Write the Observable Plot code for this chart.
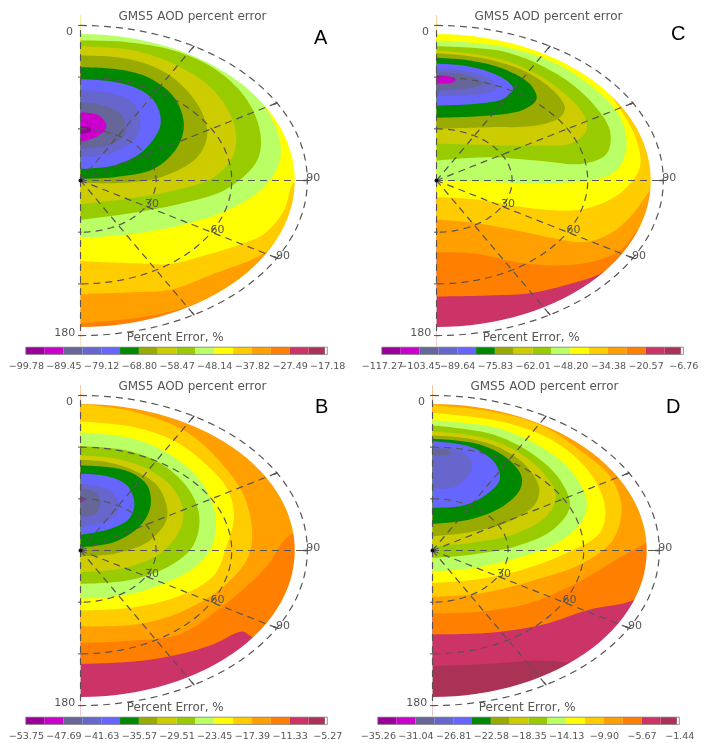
<!DOCTYPE html>
<html>
<head>
<meta charset="utf-8">
<script src="https://cdn.jsdelivr.net/npm/d3@7"></script>
<script src="https://cdn.jsdelivr.net/npm/@observablehq/plot@0.6"></script>
<style>
html,body{margin:0;padding:0;background:#fff;}
#root{position:relative;width:713px;height:743px;overflow:hidden;filter:blur(0.6px);}
.panel{position:absolute;width:356px;height:373px;}
.panel svg{position:absolute;left:0;overflow:visible;}
.letter{position:absolute;font:20px/24px "Liberation Sans",Arial,sans-serif;color:#000;}
</style>
</head>
<body>
<div id="root"></div>
<script>
// Colour levels of the percent-error palette (lowest to highest)
const palette = ["#990099","#cc00cc","#666699","#6666cc","#6666ff","#008800","#99aa00","#cccc00",
                 "#99cc00","#bbff66","#ffff00","#ffcc00","#ff9f00","#ff8000","#cc3366","#aa3355"];

// Colour-bar tick values
const ticksA = [-99.78,-89.45,-79.12,-68.80,-58.47,-48.14,-37.82,-27.49,-17.18];
const ticksB = [-53.75,-47.69,-41.63,-35.57,-29.51,-23.45,-17.39,-11.33,-5.27];
const ticksC = [-117.27,-103.45,-89.64,-75.83,-62.01,-48.20,-34.38,-20.57,-6.76];
const ticksD = [-35.26,-31.04,-26.81,-22.58,-18.35,-14.13,-9.90,-5.67,-1.44];

// Graticule of the polar plot: degrees
const azimuths = [0,30,60,90,120,150,180];
const zenithCircles = [30,60,90];
const rimZenith = 85;

// Points past the data rim, closing contours that run off the edge
const overRim = [[95,8],[85,48],[55,80],[0,95]];
const wholeDisc = [[0,96],[70,70],[96,0],[70,-70],[0,-96]];

// Iso-error contours: [colour level, outline from lower axis round to upper axis],
// outline points are r*sin(azimuth), r*cos(azimuth) in degrees of zenith angle.
const contoursA = [
 [13, wholeDisc],
 [12, [[0,-82.8],[23.8,-79.5],[39.7,-74.5],[50,-69],[62,-64],[92,-10],...overRim]],
 [11, [[0,-65.8],[21.2,-64.8],[35.7,-63.4],[52.9,-54.1],[72.8,-42.2],[80.7,-31.1],[95,-10],...overRim]],
 [10, [[0,-46.8],[21.2,-48],[35.7,-48.4],[49,-43.5],[62.2,-37.7],[72.8,-31],[80.7,-17.4],[84.7,-1],...overRim]],
 [9,  [[0,-33.3],[21.2,-30.9],[42.3,-25.1],[60.9,-15.5],[72.8,-3.9],[78.7,9.7],[79.1,23.2],[74.1,40.6],[64.8,58],[47.6,81.2],[0,95]]],
 [8,  [[0,-22.8],[18.5,-19.3],[39.7,-13.5],[58.2,-4.8],[70.1,11.6],[71.4,27.1],[66.2,46.4],[54.2,63.8],[37,75.4],[18.5,80.3],[0,81.2]]],
 [7,  [[0,-13.9],[18.5,-10.6],[37,-5.8],[52.9,1.9],[60.9,15.5],[60.9,32.9],[52.9,52.2],[39.7,65.8],[21.2,75.4],[0,77.9]]],
 [6,  [[0,-1.5],[14.6,-1.5],[31.8,1.9],[46.3,13.5],[50.3,27.1],[46.3,44.5],[34.4,61.9],[18.5,70.6],[0,72.5]]],
 [5,  [[0,1],[13.2,1.9],[29.1,6.8],[38.4,19.3],[41,32.9],[37,48.4],[26.5,60],[13.2,64.8],[0,65.8]]],
 [4,  [[0,6.8],[13.2,8.7],[25.1,17.4],[31.8,32.9],[29.1,46.4],[21.2,54.2],[9.3,58],[0,58.8]]],
 [3,  [[0,13.5],[11.9,15.5],[21.8,24.2],[23.8,32.9],[21.2,44.5],[13.2,50.3],[0,52.6]]],
 [2,  [[0,18.4],[10.6,20.3],[17.9,27.1],[16.5,37.7],[9.3,43.5],[0,45.4]]],
 [1,  [[0,22.4],[6.6,25.5],[10.3,31.3],[7.3,37.7],[0,39.6]]],
 [0,  [[0,27.1],[4,28.6],[4,30.6],[0,31.3]]]
];
const contoursC = [
 [14, wholeDisc],
 [13, [[0,-67.3],[21.2,-66.7],[37,-65.4],[52.9,-60],[66.2,-53.2],[78,-38.7],[95,-5],...overRim]],
 [12, [[0,-41.6],[15.9,-42.5],[31.8,-47.4],[47.6,-49.3],[60.9,-47.4],[72.8,-40.6],[80.7,-27],[95,-5],...overRim]],
 [11, [[0,-22.8],[15.9,-24.8],[31.8,-29],[47.6,-33.8],[58.2,-35.8],[68.8,-30.9],[78,-19.3],[84.7,-5.8],...overRim]],
 [10, [[0,-9.7],[15.9,-11],[34.4,-15.5],[52.9,-17.4],[63.5,-14.5],[74.1,-5.8],[80.7,7.7],[79.4,23.2],[74.1,38.7],[66.2,54.2],[55.6,67.7],[42.3,78.3],[21.2,87],[0,90]]],
 [9,  [[0,0],[21.2,-1],[39.7,-1.5],[60.9,0],[71.4,5.8],[75.4,19.3],[72.8,36.7],[63.5,52.2],[47.6,67.7],[27.8,77.4],[0,81.2]]],
 [8,  [[0,11.6],[21.2,13.5],[39.7,11.6],[58.2,9.7],[67.5,15.5],[68.8,29],[60.9,46.4],[47.6,61.9],[27.8,74.5],[0,77.9]]],
 [7,  [[0,21.3],[21.2,20.5],[39.7,20.3],[52.9,21.3],[59.5,29],[58.2,38.7],[47.6,54.2],[34.4,65.8],[18.5,72.5],[0,75.4]]],
 [6,  [[0,30],[21.2,30.9],[39.7,31.9],[49,36.7],[50.9,42.5],[46.3,52.2],[34.4,63.8],[18.5,71],[0,73.9]]],
 [5,  [[0,36.4],[21.2,37.7],[34.4,41],[39.7,47.4],[37,56.1],[26.5,64.8],[13.2,69.6],[0,71.2]]],
 [4,  [[0,43.5],[15.9,44.5],[26.5,47.4],[30.4,53.2],[27.8,58],[21.2,62.9],[10.6,66.7],[0,67.7]]],
 [3,  [[0,49],[15.9,49.8],[23.8,53.2],[21.2,59],[10.6,63.8],[0,64.8]]],
 [2,  [[0,52.2],[11.9,53.2],[18.5,56.1],[13.2,60.9],[0,62.9]]],
 [1,  [[0,56.5],[5.3,56.5],[7.7,58.4],[5.3,60.3],[0,61.1]]],
 [0,  [[0,59.5],[1.5,59.5],[1.5,60.5],[0,60.5]]]
];
const contoursB = [
 [14, wholeDisc],
 [13, [[0,-65.8],[21.2,-64.4],[39.7,-60],[53,-54.2],[64.2,-47],[68,-50],[80,-52],[95,-5],...overRim]],
 [12, [[0,-53.6],[21.2,-52.2],[39.7,-48.4],[54.2,-34.8],[64.8,-22.2],[74.1,-8.7],[80.7,5.8],[84.7,10.6],[95,20],[85,48],[55,80],[0,95]]],
 [11, [[0,-43.9],[21.2,-43.1],[39.7,-35.8],[55.6,-22.2],[66.2,-4.8],[68.1,10.6],[64.8,31.9],[55.6,51.2],[42.3,68.7],[21.2,80.6],[0,84.9]]],
 [10, [[0,-34.8],[21.2,-32.9],[39.7,-26.1],[52.9,-14.5],[57.6,1],[60.9,20.3],[58.2,35.8],[50.3,49.3],[37,63.8],[21.2,71.6],[0,74.8]]],
 [9,  [[0,-28],[18.5,-25.7],[34.4,-18.4],[46.3,-8.7],[52.3,2.9],[53.6,18.4],[49,37.7],[37,54.2],[21.2,64.8],[0,68.7]]],
 [8,  [[0,-19.3],[18.5,-17.4],[34.4,-9.7],[44.3,1.9],[47.2,18.4],[43.7,33.8],[33.1,49.3],[18.5,58],[0,60.5]]],
 [7,  [[0,-12.6],[15.9,-10.6],[30.4,-2.9],[39,10.6],[40.7,24.2],[35.7,37.7],[25.1,48.4],[13.2,53.6],[0,55.1]]],
 [6,  [[0,-3.3],[13.2,-1.9],[26.5,4.8],[33.7,16.4],[34.4,24.2],[30.4,37.7],[21.2,46.4],[10.6,51.2],[0,52.6]]],
 [5,  [[0,1.9],[13.2,4.8],[23.8,14.5],[27.8,26.1],[26.5,37.7],[19.8,45.4],[10.6,48.4],[0,49.3]]],
 [4,  [[0,9.1],[11.9,12.6],[19.2,18.4],[21.4,27.1],[18.5,37.7],[10.6,43.1],[0,44.5]]],
 [3,  [[0,13.5],[9.3,16.4],[14.6,22.2],[14.8,29],[10.6,35.8],[0,38.7]]],
 [2,  [[0,19.3],[6,21.3],[7.9,28],[6,33.8],[0,36.2]]],
 [1,  [[0,28.4],[1.5,29],[1.5,30.5],[0,31]]]
];
const contoursD = [
 [15, wholeDisc],
 [14, [[0,-67.1],[22.8,-65.7],[44,-63.8],[54.5,-65],[70,-66],[95,-5],...overRim]],
 [13, [[0,-48.7],[22.8,-47.8],[44,-42.9],[62.4,-34.2],[79.6,-28.8],[90,-18],...overRim]],
 [12, [[0,-36.6],[20.1,-35.2],[38.6,-30.4],[57.2,-18.8],[73,-5.2],[84.7,4.4],[93,10],[85,48],[55,80],[0,95]]],
 [11, [[0,-26.9],[20.1,-24.6],[41.3,-16.8],[59.8,-7.2],[71.7,6.4],[75,25.7],[70.4,43.1],[59.8,56.7],[43.9,72.1],[22.8,80.8],[0,84.5]]],
 [10, [[0,-18.8],[17.5,-16.8],[36,-11],[53.2,-1.4],[66.4,10.3],[68.4,25.7],[62.4,45.1],[49.2,62.5],[29.4,74.1],[0,79.9]]],
 [9,  [[0,-12],[16.1,-10.1],[36,-3.3],[51.9,6.4],[59.8,18],[61.1,29.6],[54.5,47],[42.6,60.5],[25.4,71.2],[0,75.6]]],
 [8,  [[0,-4.3],[16.1,-2.3],[33.3,2.5],[47.9,12.2],[54.5,25.7],[50.5,41.2],[40,55.7],[24.1,67.3],[0,72.5]]],
 [7,  [[0,2.5],[14.8,4.4],[32,9.3],[45.2,19.9],[49,31.5],[43.9,45.1],[33.3,57.6],[20.1,65.4],[0,69.2]]],
 [6,  [[0,8.3],[14.8,10.6],[30.7,17],[40.6,26.7],[42.3,36.4],[37.3,48.9],[26.7,59.6],[14.8,64.8],[0,66.7]]],
 [5,  [[0,15.5],[14.8,18],[28,25.7],[34.7,35.4],[35.3,43.1],[29.4,53.8],[18.8,61.5],[9.5,63.8],[0,64.8]]],
 [4,  [[0,24.8],[12.2,26.1],[21.4,32.5],[26.7,41.2],[24.7,50.9],[16.1,59.6],[6.9,62.5],[0,63.4]]],
 [3,  [[0,35.8],[9.5,37.3],[15.5,47],[14.2,54.7],[6.9,59.5],[0,60.5]]],
 [2,  [[0,55.1],[6.5,55.7],[7,57],[6,58.5],[0,59]]]
];

const panels = [
 {name:"A", left:0,   top:0,   contours:contoursA, ticks:ticksA, letter:[314,25]},
 {name:"C", left:356, top:0,   contours:contoursC, ticks:ticksC, letter:[315,21]},
 {name:"B", left:0,   top:370, contours:contoursB, ticks:ticksB, letter:[315,24]},
 {name:"D", left:352, top:370, contours:contoursD, ticks:ticksD, letter:[314,24]}
];

const rad = d => d * Math.PI / 180;
const polar = (r, a) => ({x: r * Math.sin(rad(a)), y: r * Math.cos(rad(a))});
const arc = (r, from, to) => d3.range(from, to + 0.01, 3).map(a => polar(r, a));

const gridStroke = {stroke:"#555", strokeWidth:1.2, strokeDasharray:"6 6"};
const font = {fontFamily:"DejaVu Sans", fill:"#555"};
const colorScale = {type:"ordinal", domain:d3.range(16), range:palette};

function mapPlot(p) {
  const rows = p.contours.flatMap(([level, pts]) => pts.map(([x, y]) => ({level, x, y})));
  const spokes = azimuths.flatMap(a => [{a, ...polar(0, a)}, {a, ...polar(90, a)}]);
  const circles = zenithCircles.flatMap(r => arc(r, 0, 180).map(d => ({r, ...d})));
  const mask = [...arc(rimZenith, 0, 180), {x:0,y:-100}, {x:110,y:-100}, {x:110,y:105}, {x:0,y:105}];
  const ticks90 = azimuths.slice(1, -1).flatMap(a => [{a, ...polar(88.5, a)}, {a, ...polar(90, a)}]);
  const zLabels = zenithCircles.map(r => ({r, ...polar(r, 120)}));
  return Plot.plot({
    width:356, height:345, margin:0,
    style:{background:"none"},
    x:{domain:[-31.75,109.5], range:[0,356], axis:null},
    y:{domain:[-95.76,104.47], range:[345,0], axis:null},
    color:colorScale,
    marks:[
      Plot.line(rows, {x:"x", y:"y", z:"level", fill:"level", stroke:"none", curve:"catmull-rom"}),
      Plot.line(mask, {x:"x", y:"y", fill:"white", stroke:"none"}),
      Plot.rect([{}], {x1:-31.75, x2:0, y1:-95.76, y2:104.47, fill:"white"}),
      Plot.line(circles, {x:"x", y:"y", z:"r", ...gridStroke}),
      Plot.line(spokes, {x:"x", y:"y", z:"a", ...gridStroke}),
      Plot.line(ticks90, {x:"x", y:"y", z:"a", stroke:"#555"}),
      Plot.link([30,60,90,-30,-60,-90], {x1:-1, x2:0.4, y1:d=>d, y2:d=>d, stroke:"#555"}),
      Plot.dot([{x:0,y:0}], {x:"x", y:"y", r:2, fill:"#111"}),
      Plot.text(zLabels, {x:"x", y:"y", text:d=>String(d.r), dx:6, dy:-3, fontSize:11, ...font}),
      Plot.text([{x:92.3,y:2,t:"90"},{x:-4.4,y:86.5,t:"0"},{x:-6.3,y:-88.2,t:"180"}],
        {x:"x", y:"y", text:"t", fontSize:11, ...font}),
      Plot.text(["GMS5 AOD percent error"], {x:44.4, y:95.2, text:d=>d, fontSize:12, letterSpacing:"0.95px", ...font})
    ]
  });
}

function barPlot(p) {
  const t = p.ticks;
  const bounds = t.flatMap((v, i) => i < t.length - 1 ? [v, (v + t[i + 1]) / 2] : [v]);
  const cells = palette.map((c, i) => ({level:i, x1:bounds[i], x2: i === 15 ? bounds[i] + (bounds[i+1]-bounds[i]) * 0.87 : bounds[i + 1]}));
  return Plot.plot({
    width:372, height:50, margin:0,
    style:{background:"none"},
    x:{domain:[t[0], t[8]], range:[27,342], axis:null},
    y:{domain:[0,50], range:[0,50], axis:null},
    color:colorScale,
    marks:[
      Plot.rect(cells, {x1:"x1", x2:"x2", y1:20, y2:27.5, fill:"level"}),
      Plot.rect([{}], {x1:t[0], x2:t[8], y1:20, y2:27.5, stroke:"#777", strokeWidth:0.8, fill:"none"}),
      Plot.text(t, {x:d=>d, y:39.5, text:d=>d.toFixed(2).replace("-","\u2212"), fontSize:10, ...font}),
      Plot.text(["Percent Error, %"], {x:t[0] + (t[8]-t[0]) * 0.494, y:9, text:d=>d, fontSize:12.5, letterSpacing:"0.8px", ...font})
    ]
  });
}

const root = document.getElementById("root");
for (const p of panels) {
  const div = document.createElement("div");
  div.className = "panel";
  div.style.left = p.left + "px";
  div.style.top = p.top + "px";
  const m = mapPlot(p);
  m.style.top = "0px";
  const b = barPlot(p);
  b.style.top = "328px";
  div.append(m, b);
  const l = document.createElement("div");
  l.className = "letter";
  l.textContent = p.name;
  l.style.left = p.letter[0] + "px";
  l.style.top = p.letter[1] + "px";
  div.append(l);
  root.append(div);
}
</script>
</body>
</html>
